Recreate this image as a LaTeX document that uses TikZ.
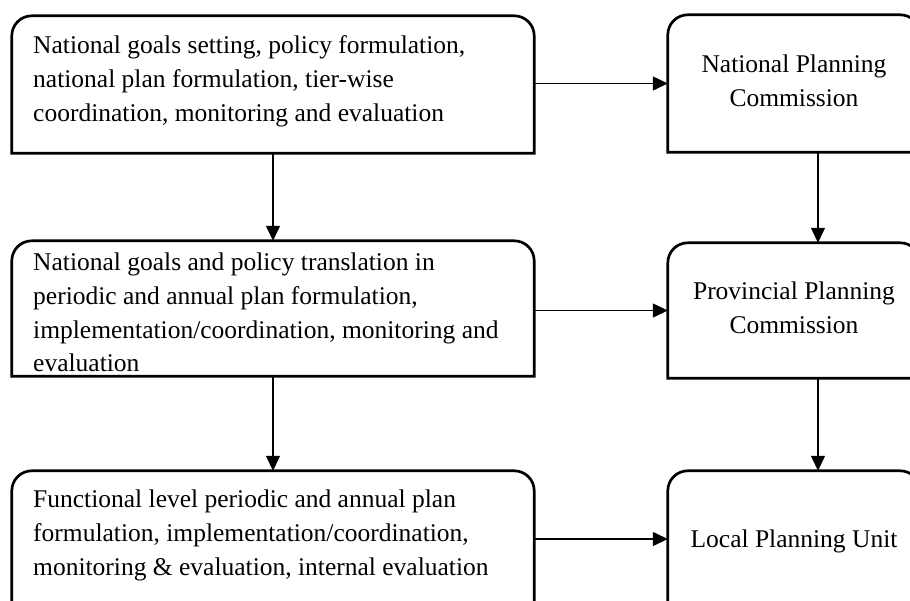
\documentclass[tikz,border=0pt]{standalone}
\usepackage{fontspec}
\setmainfont{Liberation Serif}
\usetikzlibrary{arrows.meta}
\tikzset{
  boxshape/.style={rectangle, inner sep=0pt, draw=none},
  boxline/.style={line width=2.7pt, black},
  arr/.style={line width=1.3pt, -{Triangle[length=15pt,width=14pt]}},
  txt/.style={inner sep=0pt, font={\fontsize{25.5}{33.8}\selectfont}},
}
\newcommand\topround[1]{%
  \draw[boxline] (#1.south west) -- ([yshift=-20pt]#1.north west)
    arc[start angle=180,end angle=90,radius=20pt]
    -- ([xshift=-20pt]#1.north east)
    arc[start angle=90,end angle=0,radius=20pt]
    -- (#1.south east) -- cycle;}
\begin{document}
\begin{tikzpicture}[x=1pt,y=-1pt]
\useasboundingbox (0,0) rectangle (910,600);
\clip (0,0) rectangle (910,600);
% boxes
\node[boxshape, minimum width=522pt, minimum height=137pt] (L1) at (273,84.5) {};
\node[boxshape, minimum width=522pt, minimum height=135pt] (L2) at (273,308.5) {};
\node[boxshape, minimum width=522pt, minimum height=136pt] (L3) at (273,539) {};
\node[boxshape, minimum width=252pt, minimum height=137pt] (R1) at (794,83.5) {};
\node[boxshape, minimum width=252pt, minimum height=135pt] (R2) at (794,310.5) {};
\node[boxshape, minimum width=252pt, minimum height=136pt] (R3) at (794,539) {};
\topround{L1}\topround{L2}\topround{L3}
\topround{R1}\topround{R2}\topround{R3}
% texts
\node[txt, anchor=north west, align=left] (t1) at (33,35.6)
  {National goals setting, policy formulation,\\national plan formulation, tier-wise\\coordination, monitoring and evaluation};
\node[txt, anchor=north west, align=left] (t2) at (33,252.6)
  {National goals and policy translation in\\periodic and annual plan formulation,\\implementation/coordination, monitoring and\\evaluation};
\node[txt, anchor=north west, align=left] (t3) at (33,489.6)
  {Functional level periodic and annual plan\\formulation, implementation/coordination,\\monitoring \& evaluation, internal evaluation};
\node[txt, anchor=north, align=center] (t4) at (794,54.6) {National Planning\\Commission};
\node[txt, anchor=north, align=center] (t5) at (794,281.6) {Provincial Planning\\Commission};
\node[txt, anchor=base] (t6) at (794,547) {Local Planning Unit};
% connectors
\draw[arr] (L1.south) -- (L2.north);
\draw[arr] (L2.south) -- (L3.north);
\draw[arr] ([xshift=24pt]R1.south) -- ([xshift=24pt]R2.north);
\draw[arr] ([xshift=24pt]R2.south) -- ([xshift=24pt]R3.north);
\draw[arr] (L1.east |- R1.west) -- (R1.west);
\draw[arr] (L2.east |- R2.west) -- (R2.west);
\draw[arr] (L3.east) -- (R3.west);
\end{tikzpicture}
\end{document}
